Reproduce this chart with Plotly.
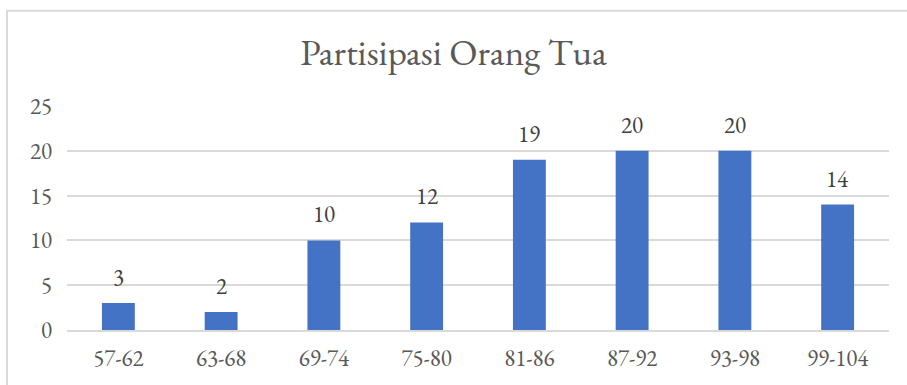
import plotly.graph_objects as go

categories = ["57-62", "63-68", "69-74", "75-80", "81-86", "87-92", "93-98", "99-104"]
counts = [3, 2, 10, 12, 19, 20, 20, 14]
y_ticks = [0, 5, 10, 15, 20, 25]

W, H = 907, 385
L, R, T, B = 67, 18, 106, 53
FONT = "EB Garamond, Garamond, Liberation Serif, Times New Roman, serif"
GREY = "#595959"

fig = go.Figure(
    go.Bar(
        x=categories,
        y=counts,
        marker=dict(color="#4472C4", line=dict(width=0)),
        width=0.32,
        hoverinfo="skip",
    )
)

# value labels above each bar
for c, v in zip(categories, counts):
    fig.add_annotation(
        x=c, y=v, text=str(v), showarrow=False, yanchor="bottom", yshift=9,
        font=dict(family=FONT, size=23, color="#404040"),
    )

# light frame around the chart
pw, ph = W - L - R, H - T - B
fig.add_shape(
    type="rect", xref="paper", yref="paper",
    x0=(7 - L) / pw, x1=(W + 5 - L) / pw,
    y0=(H - (H + 5) - B) / ph, y1=(H - 10 - B) / ph,
    line=dict(color="#d9d9d9", width=2), layer="below",
)

fig.update_layout(
    width=W, height=H,
    margin=dict(l=L, r=R, t=T, b=B),
    paper_bgcolor="white", plot_bgcolor="white",
    showlegend=False,
    title=dict(
        text="Partisipasi Orang Tua", x=0.5, xanchor="center",
        y=1 - 52 / H, yanchor="middle",
        font=dict(family=FONT, size=37, color=GREY),
    ),
    font=dict(family=FONT, color=GREY),
    bargap=0.68,
)
fig.update_xaxes(
    showgrid=False, showline=True, linecolor="#d9d9d9", linewidth=1.5,
    ticks="", tickfont=dict(family=FONT, size=23, color=GREY),
    ticklabelstandoff=7,
)
fig.update_yaxes(
    range=[0, 25], tickvals=y_ticks, showgrid=True, gridcolor="#d9d9d9",
    gridwidth=1.5, zeroline=False, showline=False, ticks="",
    tickfont=dict(family=FONT, size=23, color=GREY),
    ticklabelstandoff=14,
)

fig.write_html("out.html")
